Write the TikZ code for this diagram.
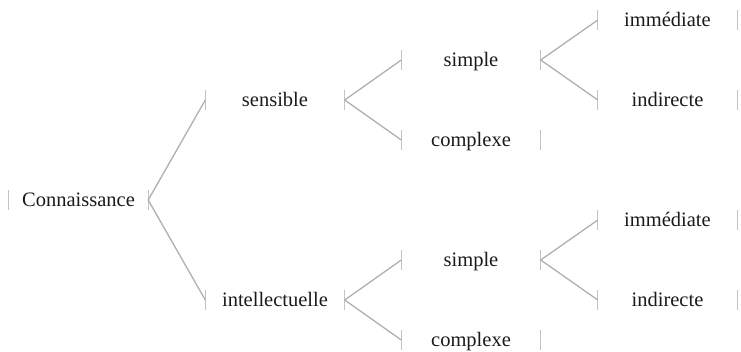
\documentclass[tikz,border=0pt]{standalone}
\usepackage{fontspec}
\setmainfont{Liberation Serif}
\definecolor{linegray}{HTML}{B0B0B0}
\definecolor{bargray}{HTML}{C4C4C4}
\definecolor{txt}{HTML}{1A1A1A}
\tikzset{
  bar/.style={draw=bargray, line width=1.1pt},
  item/.style={minimum width=139pt, minimum height=20pt, inner sep=0pt,
    text height=16.5pt, text depth=3.5pt,
    text=txt, font=\fontsize{20.5pt}{24pt}\selectfont,
    append after command={
      (\tikzlastnode.north west) edge[bar] (\tikzlastnode.south west)
      (\tikzlastnode.north east) edge[bar] (\tikzlastnode.south east)}},
  link/.style={draw=linegray, line width=1.3pt}
}
\begin{document}
\begin{tikzpicture}[x=1pt,y=-1pt]
\useasboundingbox (0,0) rectangle (741,351);
\node[item] (c)   at (78.5,200) {Connaissance};
\node[item] (s)   at (275,100) {sensible};
\node[item] (i)   at (275,300) {intellectuelle};
\node[item] (ss)  at (471,60)  {simple};
\node[item] (sc)  at (471,140) {complexe};
\node[item] (is)  at (471,260) {simple};
\node[item] (ic)  at (471,340) {complexe};
\node[item] (ssi) at (667.5,20)  {immédiate};
\node[item] (ssd) at (667.5,100) {indirecte};
\node[item] (isi) at (667.5,220) {immédiate};
\node[item] (isd) at (667.5,300) {indirecte};
\draw[link] (s.west) -- (c.east) -- (i.west);
\draw[link] (ss.west) -- (s.east) -- (sc.west);
\draw[link] (is.west) -- (i.east) -- (ic.west);
\draw[link] (ssi.west) -- (ss.east) -- (ssd.west);
\draw[link] (isi.west) -- (is.east) -- (isd.west);
\end{tikzpicture}
\end{document}
